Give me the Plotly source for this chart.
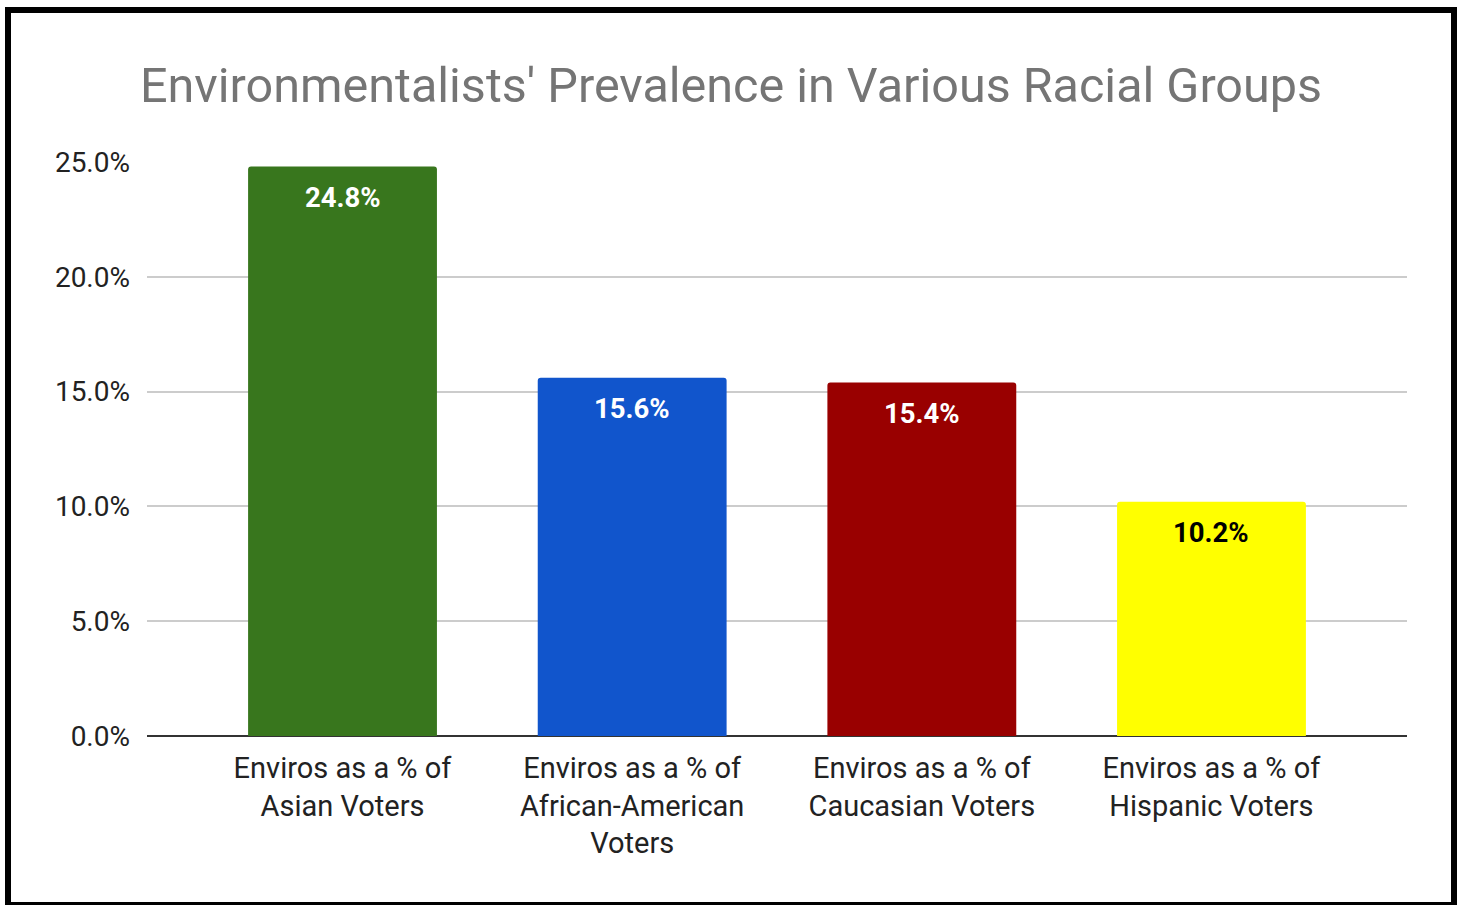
import plotly.graph_objects as go

categories = ["Enviros as a % of<br>Asian Voters",
              "Enviros as a % of<br>African-American<br>Voters",
              "Enviros as a % of<br>Caucasian Voters",
              "Enviros as a % of<br>Hispanic Voters"]
values = [24.8, 15.6, 15.4, 10.2]
bar_colors = ["#38761d", "#1155cc", "#990000", "#ffff00"]
label_colors = ["#ffffff", "#ffffff", "#ffffff", "#000000"]
y_ticks = [0, 5, 10, 15, 20, 25]
y_ticktext = ["0.0%", "5.0%", "10.0%", "15.0%", "20.0%", "25.0%"]

W, H = 1462, 905
ml, mr, mt, mb = 147, 55, 162, 169

fig = go.Figure()
fig.add_trace(go.Bar(
    x=categories, y=values,
    marker=dict(color=bar_colors, line=dict(width=0), cornerradius=3),
    width=0.652,
    hoverinfo="skip",
))

for c, v, col in zip(categories, values, label_colors):
    fig.add_annotation(x=c, y=v, text=f"<b>{v:.1f}%</b>", showarrow=False,
                       yanchor="middle", yshift=-31,
                       font=dict(family="Roboto", size=27.5, color=col))

pw = W - ml - mr
ph = H - mt - mb
def px(x):
    return (x - ml) / pw
def py(y):
    return (H - mb - y) / ph

fig.add_shape(type="rect", xref="paper", yref="paper",
              x0=px(8), x1=px(1454), y0=py(905), y1=py(10),
              line=dict(color="#000000", width=6), fillcolor="rgba(0,0,0,0)",
              layer="above")

fig.update_layout(
    width=W, height=H,
    margin=dict(l=ml, r=mr, t=mt, b=mb, autoexpand=False),
    paper_bgcolor="#ffffff", plot_bgcolor="#ffffff",
    font=dict(family="Roboto", color="#222222"),
    title=dict(text="Environmentalists' Prevalence in Various Racial Groups",
               x=0.5, xref="container", xanchor="center",
               y=1 - 85 / H, yref="container", yanchor="middle",
               font=dict(family="Roboto", size=48.5, color="#757575")),
    showlegend=False,
    bargap=0.35,
)
fig.update_xaxes(range=[-0.675, 3.675], showgrid=False, showline=False,
                 ticks="", tickfont=dict(size=29, color="#222222"),
                 ticklabelstandoff=12, zeroline=False)
fig.update_yaxes(range=[0, 25], tickvals=y_ticks, ticktext=y_ticktext,
                 showgrid=True, gridcolor="#cccccc", gridwidth=2,
                 zeroline=True, zerolinecolor="#333333", zerolinewidth=2,
                 showline=False, ticks="", ticklabelstandoff=16,
                 tickfont=dict(size=28, color="#222222"))

fig.write_html("out.html")
